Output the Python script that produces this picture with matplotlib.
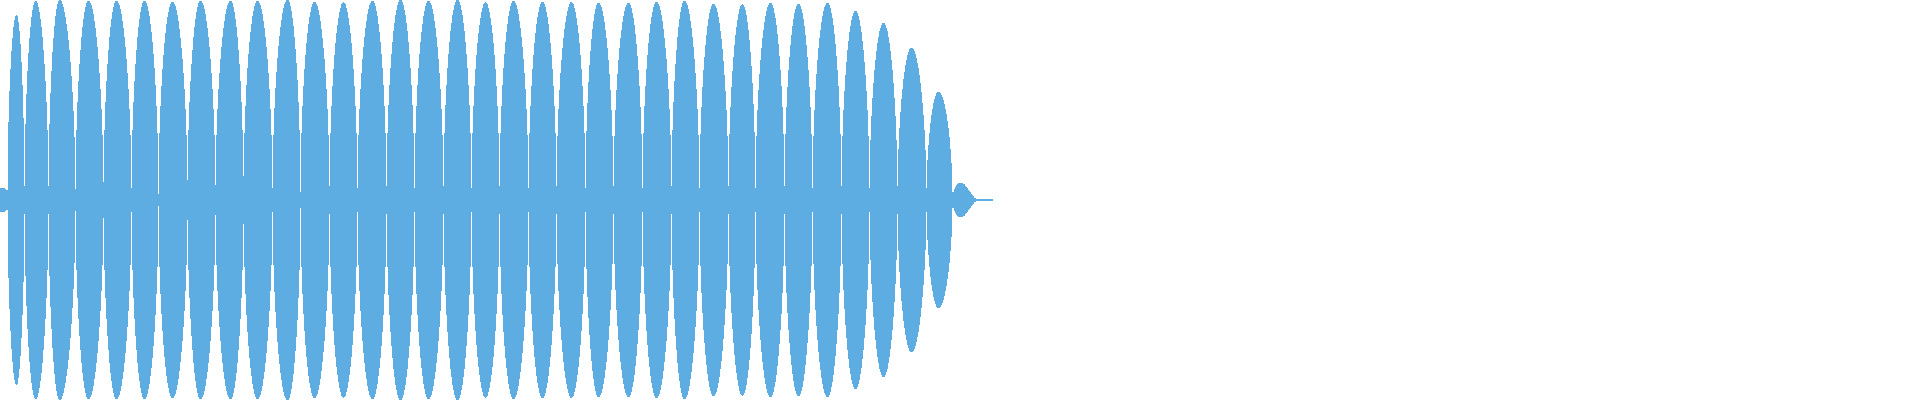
import numpy as np
import matplotlib
matplotlib.use("Agg")
import matplotlib.pyplot as plt

# ---- data (time axis in display samples, 0..1920) ----
# boundaries (nulls) between successive lobes of the waveform envelope
lobe_nulls = [0, 7, 24, 48, 75, 103, 131, 158, 187, 215, 243, 272, 300, 329,
              357, 386, 414, 443, 471, 499, 528, 556, 585, 613, 642,
              671, 699, 728, 755, 784, 812, 841, 869, 897, 926, 952, 978]
# position of each lobe's peak
lobe_peak_pos = [3, 16, 35, 59, 88, 116, 144, 172, 200, 230, 257, 287, 314, 343,
                 372, 400, 428, 457, 485, 513, 542, 571, 598, 628, 656, 684,
                 713, 742, 770, 798, 827, 855, 883, 911, 938, 960]
# normalised peak amplitude of each lobe
lobe_peak_amp = [0.06, 0.925, 0.995, 1.0, 0.995, 0.995, 0.995, 0.99, 0.995, 0.995,
                 0.995, 1.0, 0.99, 0.988, 0.995, 1.0, 0.995, 1.0, 0.988, 0.995,
                 0.99, 0.988, 0.985, 0.985, 0.99, 0.995, 0.98, 0.978, 0.985, 0.98,
                 0.985, 0.945, 0.885, 0.76, 0.54, 0.085]
# residual amplitude at each null
null_depth = [0.06, 0.05, 0.07, 0.07, 0.055, 0.09, 0.06, 0.03, 0.10, 0.075, 0.12,
              0.06, 0.04, 0.07, 0.06, 0.07, 0.06, 0.07, 0.06, 0.07, 0.06, 0.07,
              0.06, 0.07, 0.06, 0.07, 0.06, 0.07, 0.06, 0.07, 0.06, 0.07, 0.06,
              0.07, 0.06, 0.04, 0.004]
tail_end = 992
tail_amp = 0.004

COLOR = "#5DADE2"
RISE_POWER = 0.5
FALL_POWER = [0.5] * (len(lobe_peak_amp) - 1) + [2.0]

# ---- build envelope on a per-pixel grid ----
x = np.arange(0, tail_end + 1, 1.0)
env = np.full_like(x, tail_amp)
for k in range(len(lobe_peak_amp)):
    a, b = lobe_nulls[k], lobe_nulls[k + 1]
    p, amp = lobe_peak_pos[k], lobe_peak_amp[k]
    m = (x >= a) & (x < b)
    xs = x[m]
    rising = xs <= p
    t = np.where(rising, (xs - a) / max(p - a, 1e-9), (b - xs) / max(b - p, 1e-9))
    t = np.clip(t, 0, 1)
    base = np.sin(np.pi / 2 * t)
    shape = np.where(rising, base ** RISE_POWER, base ** FALL_POWER[k])
    floor = np.where(rising, null_depth[k], null_depth[k + 1])
    env[m] = np.maximum(amp * shape, floor)

fig = plt.figure(figsize=(19.2, 4.0), dpi=100)
ax = fig.add_axes([0, 0, 1, 1])
ax.fill_between(x, -env, env, step="mid", color=COLOR, linewidth=0, antialiased=False)
ax.set_xlim(-0.5, 1919.5)
ax.set_ylim(-1, 1)
ax.axis("off")
fig.savefig("out.png", dpi=100, facecolor="white")
